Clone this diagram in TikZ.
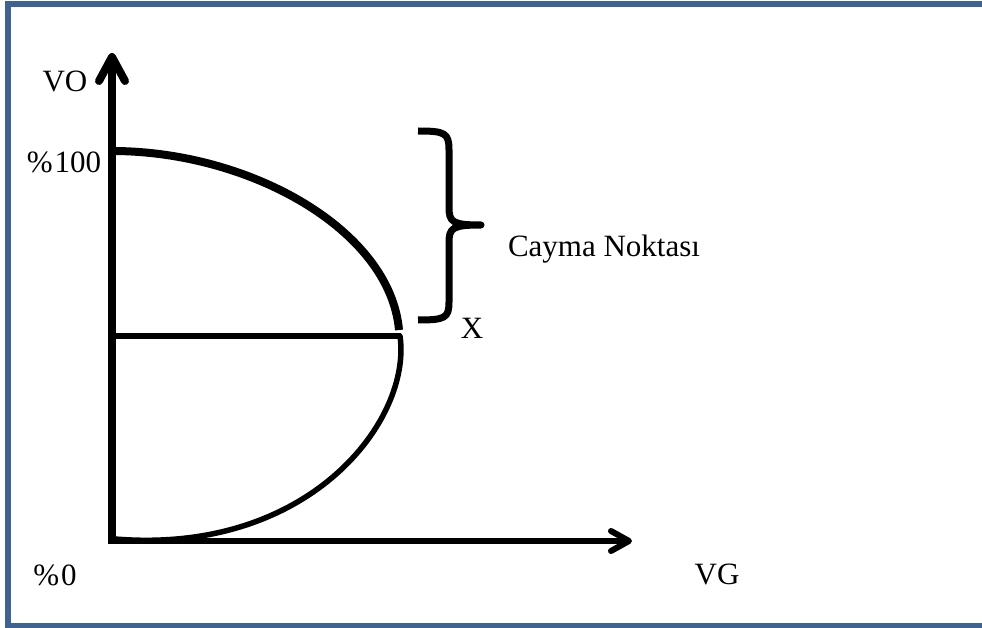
\documentclass[tikz,border=0pt]{standalone}
\usepackage{fontspec}
\setmainfont{Liberation Serif}
\definecolor{frameblue}{HTML}{3E6393}
\tikzset{
  thick line/.style={line width=8pt, line cap=round, line join=round},
  axis line/.style={line width=6pt, line cap=round, line join=round},
  lbl/.style={font=\fontsize{31}{36}\selectfont, inner sep=0pt, anchor=base},
}
\begin{document}
\begin{tikzpicture}[x=1pt,y=-1pt]
\useasboundingbox (0,0) rectangle (982,628);
\begin{scope}
\clip (0,0) rectangle (982,628);
\fill[white] (0,0) rectangle (982,628);
% frame (right edge lies outside the picture)
\draw[frameblue, line width=6pt] (8,4.5) -- (1050,4.5);
\draw[frameblue, line width=6pt] (8,625.5) -- (1050,625.5);
\draw[frameblue, line width=6pt] (8,1.5) -- (8,628);
\end{scope}
% coordinates
\coordinate (Ytop) at (112,57);
\coordinate (Xend) at (629,541);
\coordinate (Top) at (112,151);
\coordinate (UpEnd) at (399,330);
\coordinate (LowStart) at (400,336);
\coordinate (HL) at (112,336);
\coordinate (HR) at (401,336);
% y axis
\draw[line width=8pt] (112,544) -- (Ytop);
\draw[thick line] (99,81) -- (Ytop) -- (125,81);
% x axis
\draw[line width=6pt] (108,541) -- (Xend);
\draw[axis line] (611,531) -- (Xend) -- (611,551);
% curve: upper (thick) and lower (thinner) parts
\draw[line width=8pt]
  (Top) .. controls (250,151) and (390,230) .. (UpEnd);
\draw[line width=5.5pt, line cap=round]
  (LowStart) .. controls (412,420) and (310,555) .. (115,539);
% horizontal line
\draw[line width=6pt] (HL) -- (HR);
% brace
\draw[line width=7pt, line join=round]
  (418,131) .. controls (445,131) and (449,133) .. (449,150) -- (449,207)
  .. controls (449,222) and (452,225) .. (481,225)
  .. controls (452,225) and (449,228) .. (449,243) -- (449,302)
  .. controls (449,318) and (445,320) .. (418,320);
% labels
\node[lbl] (vo) at (65,92) {VO};
\node[lbl] (p100) at (64,173) {\%\kern2pt100};
\node[lbl] (cayma) at (604,257) {Cayma Noktası};
\node[lbl] (xlbl) at (472,338) {X};
\node[lbl] (p0) at (55,585) {\%\kern2pt0};
\node[lbl] (vg) at (717,584) {VG};
\end{tikzpicture}
\end{document}
